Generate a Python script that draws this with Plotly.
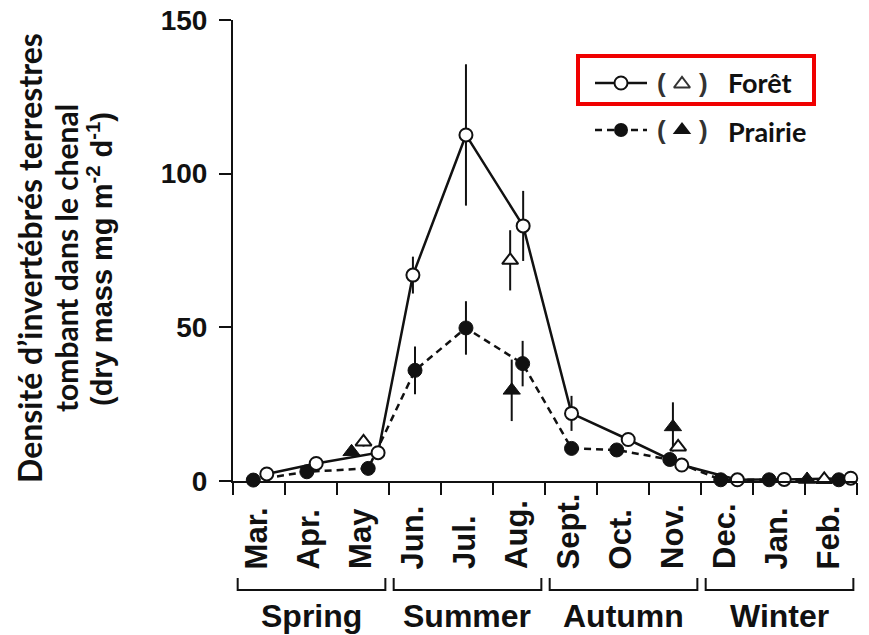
import plotly.graph_objects as go

# ---- data -------------------------------------------------------------
months = ["Mar.", "Apr.", "May", "Jun.", "Jul.", "Aug.",
          "Sept.", "Oct.", "Nov.", "Dec.", "Jan.", "Feb."]
seasons = ["Spring", "Summer", "Autumn", "Winter"]

# sampling position (in months from 1 March) and mean dry mass (mg m-2 d-1)
foret_t = [0.65, 1.60, 2.79, 3.46, 4.48, 5.58, 6.51, 7.60, 8.63, 9.70, 10.60, 11.88]
foret_val = [2.3, 5.7, 9.2, 67.0, 112.6, 83.0, 22.0, 13.5, 5.2, 0.4, 0.5, 0.9]
foret_err = [0, 0, 0, 6.0, 23.0, 11.4, 5.7, 1.0, 0.8, 0, 0, 0]

prairie_t = [0.39, 1.42, 2.60, 3.50, 4.48, 5.57, 6.51, 7.38, 8.40, 9.38, 10.31, 11.65]
prairie_val = [0.3, 3.0, 4.1, 36.0, 49.8, 38.2, 10.6, 10.1, 7.0, 0.4, 0.4, 0.4]
prairie_err = [0, 0, 0, 7.8, 8.7, 7.4, 0, 0, 0, 0, 0, 0]

# additional reaches (triangles)
foret_tri_t = [2.51, 5.33, 8.56, 11.37]
foret_tri_val = [12.7, 71.8, 11.1, 0.5]
foret_tri_err = [1.5, 9.8, 0.8, 0]

prairie_tri_t = [2.28, 5.36, 8.46, 11.04]
prairie_tri_val = [9.5, 29.5, 17.6, 0.5]
prairie_tri_err = [0, 10.0, 8.0, 0]

y_ticks = [0, 50, 100, 150]

# ---- styling ----------------------------------------------------------
W, H = 869, 635
PX0, PX1, PY0, PY1 = 233, 857, 20, 481   # plot area in pixels
INK = "#111111"
HELV = "Liberation Sans, Arial, sans-serif"
LATO = "Lato, sans-serif"

fig = go.Figure()

# prairie series (dashed, filled circles)
fig.add_trace(go.Scatter(
    x=prairie_t, y=prairie_val, mode="lines+markers", cliponaxis=False,
    line=dict(color=INK, width=2.5, dash="7px,5px"),
    marker=dict(symbol="circle", size=14, color=INK, line=dict(color=INK, width=1)),
    error_y=dict(type="data", array=prairie_err, color=INK, thickness=2, width=0),
))
# forêt series (solid, open circles)
fig.add_trace(go.Scatter(
    x=foret_t, y=foret_val, mode="lines+markers", cliponaxis=False,
    line=dict(color=INK, width=2.5),
    marker=dict(symbol="circle", size=13, color="white", line=dict(color=INK, width=2)),
    error_y=dict(type="data", array=foret_err, color=INK, thickness=2, width=0),
))
# triangles
fig.add_trace(go.Scatter(
    x=prairie_tri_t, y=prairie_tri_val, mode="markers", cliponaxis=False,
    marker=dict(symbol="triangle-up", size=15, color=INK, line=dict(color=INK, width=1)),
    error_y=dict(type="data", array=prairie_tri_err, color=INK, thickness=2, width=0),
))
fig.add_trace(go.Scatter(
    x=foret_tri_t, y=foret_tri_val, mode="markers", cliponaxis=False,
    marker=dict(symbol="triangle-up", size=14, color="white", line=dict(color=INK, width=2)),
    error_y=dict(type="data", array=foret_tri_err, color=INK, thickness=2, width=0),
))

# ---- legend (drawn on a pixel-space overlay) --------------------------
LX0, LX1, LXM = 595, 647, 621
fig.add_trace(go.Scatter(x=[LX0, LX1], y=[83, 83], xaxis="x2", yaxis="y2", mode="lines",
                         line=dict(color=INK, width=2.5)))
fig.add_trace(go.Scatter(x=[LX0, LX1], y=[130, 130], xaxis="x2", yaxis="y2", mode="lines",
                         line=dict(color=INK, width=2.5, dash="7px,5px")))
fig.add_trace(go.Scatter(x=[LXM], y=[83], xaxis="x2", yaxis="y2", mode="markers",
                         marker=dict(symbol="circle", size=13, color="white",
                                     line=dict(color=INK, width=2))))
fig.add_trace(go.Scatter(x=[LXM], y=[130], xaxis="x2", yaxis="y2", mode="markers",
                         marker=dict(symbol="circle", size=14, color=INK)))
fig.add_trace(go.Scatter(x=[682], y=[84], xaxis="x2", yaxis="y2", mode="markers",
                         marker=dict(symbol="triangle-up", size=14, color="white",
                                     line=dict(color="#333333", width=2))))
fig.add_trace(go.Scatter(x=[682], y=[130], xaxis="x2", yaxis="y2", mode="markers",
                         marker=dict(symbol="triangle-up", size=16, color=INK)))

annotations = []
for yy in (83, 130):
    for xx, ch in ((661, "("), (703, ")")):
        annotations.append(dict(x=xx, y=yy, xref="x2", yref="y2", text=ch, showarrow=False,
                                xanchor="center", yanchor="middle",
                                font=dict(family=HELV, size=26, color="#333333", weight="bold")))
annotations.append(dict(x=726, y=82, xref="x2", yref="y2", text="Forêt", showarrow=False,
                        xanchor="left", yanchor="middle",
                        font=dict(family=LATO, size=27, color=INK, weight="bold")))
annotations.append(dict(x=726, y=131, xref="x2", yref="y2", text="Prairie", showarrow=False,
                        xanchor="left", yanchor="middle",
                        font=dict(family=LATO, size=27, color=INK, weight="bold")))

shapes = [dict(type="rect", xref="x2", yref="y2", x0=578, x1=814, y0=56, y1=104,
               line=dict(color="#f00000", width=4), fillcolor="rgba(0,0,0,0)")]

# ---- y-axis title (three rotated lines) --------------------------------
annotations.append(dict(x=29, y=258, xref="x2", yref="y2", textangle=-90, showarrow=False,
                        text="Densité d’invertébrés terrestres", xanchor="center", yanchor="middle",
                        font=dict(family=LATO, size=32, color=INK, weight="bold")))
annotations.append(dict(x=66, y=258, xref="x2", yref="y2", textangle=-90, showarrow=False,
                        text="tombant dans le chenal", xanchor="center", yanchor="middle",
                        font=dict(family=LATO, size=30, color=INK, weight="bold")))
annotations.append(dict(x=100, y=259, xref="x2", yref="y2", textangle=-90, showarrow=False,
                        text="(dry mass mg m<sup>-2</sup> d<sup>-1</sup>)",
                        xanchor="center", yanchor="middle",
                        font=dict(family=HELV, size=29, color=INK, weight="bold")))

# ---- month labels, season brackets and names ---------------------------
for i, m in enumerate(months):
    annotations.append(dict(x=i + 0.45, y=571, xref="x", yref="y2", text=m, textangle=-90,
                            showarrow=False, xanchor="center", yanchor="bottom",
                            font=dict(family=HELV, size=31, color=INK, weight="bold")))
for s, name in enumerate(seasons):
    a, b = 3 * s + 0.09, 3 * s + 2.93
    shapes.append(dict(type="path", xref="x", yref="y2",
                       path=f"M {a},578 L {a},590 L {b},590 L {b},578",
                       line=dict(color=INK, width=2)))
    annotations.append(dict(x=3 * s + 1.5, y=616, xref="x", yref="y2", text=name,
                            showarrow=False, xanchor="center", yanchor="middle",
                            font=dict(family=HELV, size=32, color=INK, weight="bold")))

fig.update_layout(
    width=W, height=H, margin=dict(l=0, r=0, t=0, b=0, pad=0),
    template="none", paper_bgcolor="white", plot_bgcolor="rgba(0,0,0,0)",
    showlegend=False,
    xaxis=dict(domain=[PX0 / W, PX1 / W], range=[0, 12], tickvals=list(range(13)),
               showticklabels=False, ticks="outside", ticklen=12, tickwidth=2, tickcolor=INK,
               showline=True, linewidth=2, linecolor=INK, showgrid=False, zeroline=False,
               automargin=False, fixedrange=True),
    yaxis=dict(domain=[1 - PY1 / H, 1 - PY0 / H], range=[0, 150], tickvals=y_ticks,
               ticks="outside", ticklen=12, tickwidth=2, tickcolor=INK,
               tickfont=dict(family=HELV, size=28, color=INK, weight="bold"),
               ticklabelstandoff=6,
               showline=True, linewidth=2, linecolor=INK, showgrid=False, zeroline=False,
               automargin=False, fixedrange=True),
    xaxis2=dict(domain=[0, 1], range=[0, W], visible=False, anchor="y2", fixedrange=True),
    yaxis2=dict(domain=[0, 1], range=[H, 0], visible=False, anchor="x2", fixedrange=True),
    annotations=annotations,
    shapes=shapes,
)

fig.write_html("out.html")
